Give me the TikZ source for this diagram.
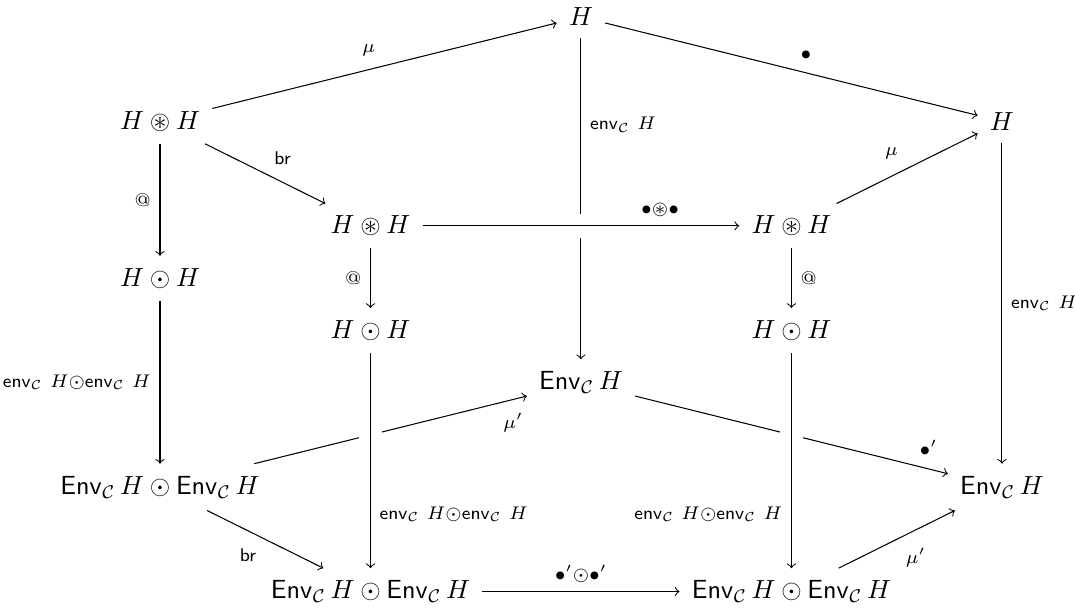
\documentclass[tikz,border=0pt]{standalone}
\usepackage{amsmath,amssymb}
\newcommand{\EnvC}{\mathsf{Env}_{\mathcal{C}}\,}
\newcommand{\envC}{\mathsf{env}_{\mathcal{C}}\ }

\begin{document}
\begin{tikzpicture}[x=2.8207cm, y=-0.7cm,
    obj/.style={inner sep=4.5pt},
    lab/.style={font=\scriptsize, auto},
    cross/.style={preaction={draw=white, -, line width=9pt}}]
  \useasboundingbox (-0.76,-0.325) rectangle (4.347,11.388);
  % objects
  \node[obj] (top) at (2,0) {$H$};
  \node[obj] (astL) at (0,2) {$H \circledast H$};
  \node[obj] (hR) at (4,2) {$H$};
  \node[obj] (astM) at (1,4) {$H \circledast H$};
  \node[obj] (astR) at (3,4) {$H \circledast H$};
  \node[obj] (odotL) at (0,5) {$H \odot H$};
  \node[obj] (odotM) at (1,6) {$H \odot H$};
  \node[obj] (odotR) at (3,6) {$H \odot H$};
  \node[obj] (envM) at (2,7) {$\EnvC H$};
  \node[obj] (eeL) at (0,9) {$\EnvC H \odot \EnvC H$};
  \node[obj] (envR) at (4,9) {$\EnvC H$};
  \node[obj] (eeM) at (1,11) {$\EnvC H \odot \EnvC H$};
  \node[obj] (eeR) at (3,11) {$\EnvC H \odot \EnvC H$};
  % arrows that get crossed
  \draw[->] (top) -- node[lab,pos=0.27] {$\envC H$} (envM);
  \draw[->] (eeL) -- node[lab,swap,pos=0.88] {$\mu'$} (envM);
  \draw[->] (envM) -- node[lab,pos=0.88] {$\bullet'$} (envR);
  % top part
  \draw[->] (astL) -- node[lab] {$\mu$} (top);
  \draw[->] (top) -- node[lab] {$\bullet$} (hR);
  \draw[->] (astL) -- node[lab] {\textsf{br}} (astM);
  \draw[->] (astL) -- node[lab,swap] {\textrm{@}} (odotL);
  \draw[->,cross] (astM) -- node[lab,pos=0.75] {${\bullet}{\circledast}{\bullet}$} (astR);
  \draw[->] (astR) -- node[lab] {$\mu$} (hR);
  \draw[->] (astM) -- node[lab,swap] {\textrm{@}} (odotM);
  \draw[->] (astR) -- node[lab] {\textrm{@}} (odotR);
  \draw[->] (hR) -- node[lab] {$\envC H$} (envR);
  % bottom part
  \draw[->] (odotL) -- node[lab,swap] {$\envC H{\odot}\envC H$} (eeL);
  \draw[->,cross] (odotM) -- node[lab,pos=0.75] {$\envC H{\odot}\envC H$} (eeM);
  \draw[->,cross] (odotR) -- node[lab,swap,pos=0.75] {$\envC H{\odot}\envC H$} (eeR);
  \draw[->] (eeL) -- node[lab,swap] {\textsf{br}} (eeM);
  \draw[->] (eeM) -- node[lab] {${\bullet'}{\odot}{\bullet'}$} (eeR);
  \draw[->] (eeR) -- node[lab,swap] {$\mu'$} (envR);
\end{tikzpicture}
\end{document}
